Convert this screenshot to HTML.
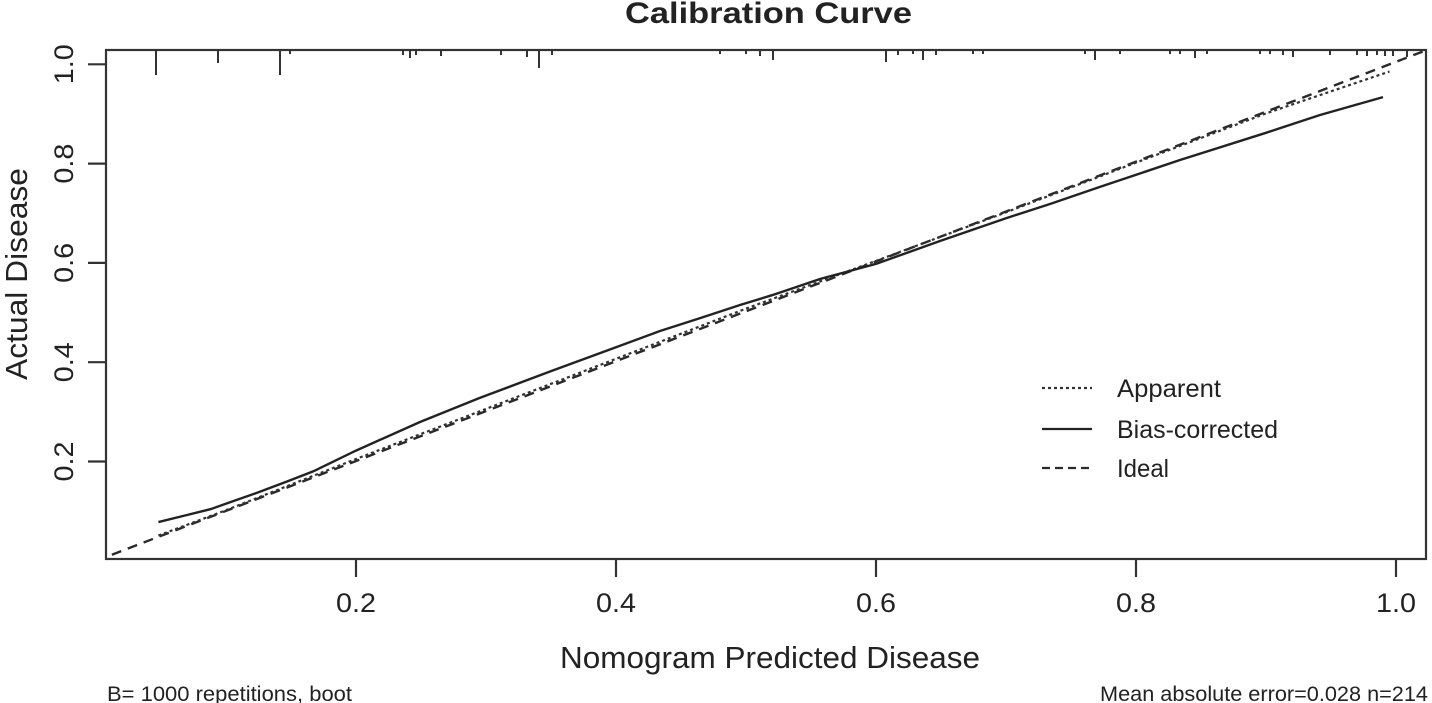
<!DOCTYPE html>
<html>
<head>
<meta charset="utf-8">
<style>
  html, body { margin: 0; padding: 0; background: #ffffff; }
  body { width: 1432px; height: 703px; overflow: hidden; }
  svg { display: block; }
  text { font-family: "Liberation Sans", Arial, sans-serif; fill: #222; }
</style>
</head>
<body>
<svg width="1432" height="703" viewBox="0 0 1432 703" xmlns="http://www.w3.org/2000/svg">
  <defs>
    <clipPath id="plotclip">
      <rect x="106" y="50" width="1320" height="509"/>
    </clipPath>
  </defs>

  <text x="625" y="23" font-size="30" font-weight="bold" textLength="287" lengthAdjust="spacingAndGlyphs">Calibration Curve</text>

  <rect x="106" y="50" width="1320" height="509" fill="none" stroke="#333" stroke-width="2.2"/>

  <g stroke="#333" stroke-width="2.2">
    <line x1="88" y1="64.3" x2="106" y2="64.3"/>
    <line x1="88" y1="163.6" x2="106" y2="163.6"/>
    <line x1="88" y1="262.9" x2="106" y2="262.9"/>
    <line x1="88" y1="362.2" x2="106" y2="362.2"/>
    <line x1="88" y1="461.5" x2="106" y2="461.5"/>
  </g>
  <g font-size="27">
    <text transform="translate(73,64.3) rotate(-90)" text-anchor="middle" textLength="40" lengthAdjust="spacingAndGlyphs">1.0</text>
    <text transform="translate(73,163.6) rotate(-90)" text-anchor="middle" textLength="40" lengthAdjust="spacingAndGlyphs">0.8</text>
    <text transform="translate(73,262.9) rotate(-90)" text-anchor="middle" textLength="40" lengthAdjust="spacingAndGlyphs">0.6</text>
    <text transform="translate(73,362.2) rotate(-90)" text-anchor="middle" textLength="40" lengthAdjust="spacingAndGlyphs">0.4</text>
    <text transform="translate(73,461.5) rotate(-90)" text-anchor="middle" textLength="40" lengthAdjust="spacingAndGlyphs">0.2</text>
  </g>

  <g stroke="#333" stroke-width="2.2">
    <line x1="356" y1="559" x2="356" y2="577"/>
    <line x1="616" y1="559" x2="616" y2="577"/>
    <line x1="876" y1="559" x2="876" y2="577"/>
    <line x1="1136" y1="559" x2="1136" y2="577"/>
    <line x1="1396" y1="559" x2="1396" y2="577"/>
  </g>
  <g font-size="27" text-anchor="middle">
    <text x="356" y="612" textLength="40" lengthAdjust="spacingAndGlyphs">0.2</text>
    <text x="616" y="612" textLength="40" lengthAdjust="spacingAndGlyphs">0.4</text>
    <text x="876" y="612" textLength="40" lengthAdjust="spacingAndGlyphs">0.6</text>
    <text x="1136" y="612" textLength="40" lengthAdjust="spacingAndGlyphs">0.8</text>
    <text x="1396" y="612" textLength="40" lengthAdjust="spacingAndGlyphs">1.0</text>
  </g>

  <text x="560" y="668" font-size="31" textLength="420" lengthAdjust="spacingAndGlyphs">Nomogram Predicted Disease</text>
  <text transform="translate(27,274) rotate(-90)" font-size="31" text-anchor="middle" textLength="212" lengthAdjust="spacingAndGlyphs">Actual Disease</text>

  <g stroke="#333" stroke-width="2">
    <line x1="156" y1="50" x2="156" y2="75"/>
    <line x1="218" y1="50" x2="218" y2="63"/>
    <line x1="280" y1="50" x2="280" y2="75"/>
    <line x1="290" y1="50" x2="290" y2="54"/>
    <line x1="403" y1="50" x2="403" y2="55"/>
    <line x1="410" y1="50" x2="410" y2="58"/>
    <line x1="416" y1="50" x2="416" y2="55"/>
    <line x1="441" y1="50" x2="441" y2="56"/>
    <line x1="501" y1="50" x2="501" y2="55"/>
    <line x1="527" y1="50" x2="527" y2="57"/>
    <line x1="539" y1="50" x2="539" y2="68"/>
    <line x1="552" y1="50" x2="552" y2="55"/>
    <line x1="720" y1="50" x2="720" y2="54"/>
    <line x1="746" y1="50" x2="746" y2="54"/>
    <line x1="760" y1="50" x2="760" y2="56"/>
    <line x1="773" y1="50" x2="773" y2="60"/>
    <line x1="886" y1="50" x2="886" y2="62"/>
    <line x1="898" y1="50" x2="898" y2="55"/>
    <line x1="913" y1="50" x2="913" y2="54"/>
    <line x1="923" y1="50" x2="923" y2="60"/>
    <line x1="936" y1="50" x2="936" y2="55"/>
    <line x1="973" y1="50" x2="973" y2="54"/>
    <line x1="983" y1="50" x2="983" y2="54"/>
    <line x1="1085" y1="50" x2="1085" y2="54"/>
    <line x1="1095" y1="50" x2="1095" y2="60"/>
    <line x1="1120" y1="50" x2="1120" y2="54"/>
    <line x1="1170" y1="50" x2="1170" y2="54"/>
    <line x1="1180" y1="50" x2="1180" y2="54"/>
    <line x1="1195" y1="50" x2="1195" y2="58"/>
    <line x1="1207" y1="50" x2="1207" y2="54"/>
    <line x1="1260" y1="50" x2="1260" y2="54"/>
    <line x1="1270" y1="50" x2="1270" y2="54"/>
    <line x1="1283" y1="50" x2="1283" y2="55"/>
    <line x1="1293" y1="50" x2="1293" y2="57"/>
    <line x1="1330" y1="50" x2="1330" y2="55"/>
    <line x1="1357" y1="50" x2="1357" y2="55"/>
    <line x1="1367" y1="50" x2="1367" y2="56"/>
    <line x1="1377" y1="50" x2="1377" y2="55"/>
    <line x1="1385" y1="50" x2="1385" y2="56"/>
    <line x1="1393" y1="50" x2="1393" y2="56"/>
    <line x1="1407" y1="50" x2="1407" y2="57"/>
  </g>

  <g clip-path="url(#plotclip)" fill="none">
    <line x1="96" y1="560.8" x2="1432" y2="48" stroke="#2a2a2a" stroke-width="2.4" stroke-dasharray="10 7"/>
    <polyline stroke="#333" stroke-width="2.2" stroke-dasharray="3 3"
      points="158.4,535.5 226,510.2 356,459 486,408.9 616,358.8 746,308.6 876,260.9 1006,212.3 1136,162.6 1266,113.4 1389.5,71.5"/>
    <polyline stroke="#222" stroke-width="2.4"
      points="158.4,522.1 185,515.5 210.4,509.2 235,500.5 259.8,491.8 287,481.5 313.1,471.4 356,450.6 420,422 479.5,398 550,371.5 616,347.3 660,331 700.5,318 740,305 772,295.2 820,279 876,263.9 940,241 1006,218.2 1050,204 1099.6,187 1180,160 1266,132.8 1320,115 1383,97.1"/>
  </g>

  <g stroke-width="2.2" fill="none">
    <line x1="1042" y1="388" x2="1092" y2="388" stroke="#333" stroke-dasharray="3 3"/>
    <line x1="1042" y1="429" x2="1092" y2="429" stroke="#222"/>
    <line x1="1042" y1="468" x2="1092" y2="468" stroke="#2a2a2a" stroke-dasharray="8 5"/>
  </g>
  <g font-size="25">
    <text x="1117" y="397" textLength="104" lengthAdjust="spacingAndGlyphs">Apparent</text>
    <text x="1117" y="438" textLength="161" lengthAdjust="spacingAndGlyphs">Bias-corrected</text>
    <text x="1117" y="477" textLength="52" lengthAdjust="spacingAndGlyphs">Ideal</text>
  </g>

  <text x="107" y="701" font-size="21" textLength="245" lengthAdjust="spacingAndGlyphs">B= 1000 repetitions, boot</text>
  <text x="1100" y="701" font-size="21" textLength="328" lengthAdjust="spacingAndGlyphs">Mean absolute error=0.028 n=214</text>
</svg>
</body>
</html>
